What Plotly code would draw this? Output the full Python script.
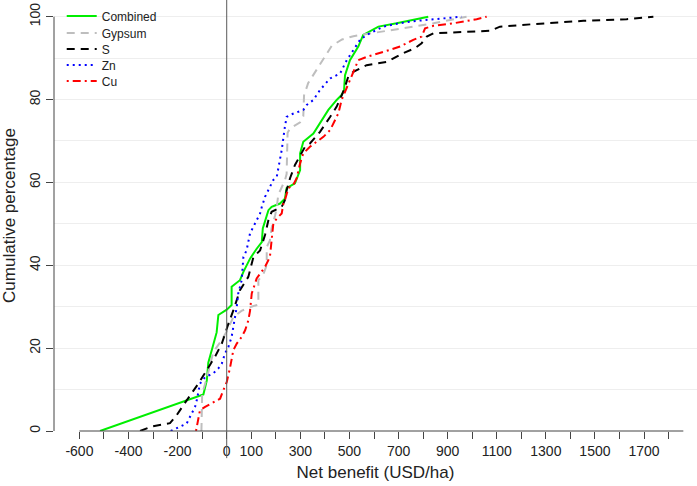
import plotly.graph_objects as go

# ---- data ----
combined_x = [-516, -95, -81, -75, -41, -34, 0, 20, 20, 54, 68, 95, 122, 143, 147, 163, 170, 183, 217, 237, 244, 278, 285, 299, 299, 312, 353, 380, 414, 448, 468, 478, 482, 502, 536, 556, 618, 692, 774, 821]
combined_y = [0, 8.8, 12.2, 16.5, 23.8, 28, 29.3, 30.4, 34.8, 36.4, 38.4, 41.6, 44, 45.6, 48.9, 51.7, 53.3, 54.1, 54.9, 56.1, 58.6, 59.8, 61, 63, 67, 69.8, 71.8, 74.2, 77.5, 79.9, 81.1, 82.3, 85.9, 89.5, 92.8, 95.6, 97.6, 98.4, 99.4, 100]

gypsum_x = [-103, -100, -80, -55, -20, 0, 27, 60, 100, 129, 129, 150, 163, 163, 176, 183, 197, 204, 210, 224, 237, 244, 248, 258, 299, 312, 315, 332, 373, 407, 428, 470, 516, 570, 679, 787, 842, 910, 977]
gypsum_y = [0, 9, 13, 19, 22, 24, 27.5, 29, 30, 30.5, 36.4, 38, 40, 44.4, 46, 49, 52, 54, 57, 59, 60.5, 62, 72, 73, 74.5, 76, 81, 84, 88, 91, 93, 94.5, 95.3, 95.8, 96.8, 97.8, 98.4, 99.2, 100]

s_x = [-353, -306, -231, -204, -163, -116, -81, -48, -20, -7, 7, 27, 41, 54, 88, 109, 136, 156, 170, 183, 224, 237, 244, 258, 278, 319, 339, 380, 421, 448, 475, 495, 516, 570, 652, 719, 767, 794, 815, 842, 1073, 1113, 1249, 1453, 1629, 1738]
s_y = [0, 1.1, 1.9, 3.8, 7.4, 11.4, 14.7, 17.9, 21.1, 23.5, 25.9, 29.1, 31.6, 34, 37.2, 42, 43.6, 47.3, 50.9, 52.9, 54.1, 55.7, 58.1, 61, 64.2, 68.6, 69.4, 72.2, 75.8, 78.3, 81.9, 85.5, 86.7, 88.3, 89.1, 91.2, 92.4, 93.6, 95.2, 96, 96.6, 97.6, 98.2, 99, 99.4, 100]

zn_x = [-228, -200, -163, -143, -129, -122, -109, -88, -55, -34, -20, -7, 7, 20, 27, 34, 41, 47, 61, 68, 81, 95, 109, 122, 136, 143, 156, 176, 190, 204, 224, 237, 244, 258, 312, 326, 353, 380, 421, 462, 489, 543, 570, 638, 700, 774, 860, 957]
zn_y = [0, 0.8, 1.8, 4.2, 5.8, 7.4, 11.4, 13, 13.9, 15.1, 16.3, 18.7, 20.3, 22.7, 25.1, 27.5, 30, 33.2, 36.4, 42, 43.6, 47.7, 49.3, 50.9, 52.5, 54.1, 56.5, 58.9, 60.6, 61.4, 67.8, 73.4, 75.8, 76.3, 77.5, 78.7, 79.9, 82.3, 85.1, 86.3, 89.5, 94.4, 95.6, 97.6, 98.4, 99.0, 99.4, 100]

cu_x = [-125, -109, -88, -48, -27, -14, 0, 13, 27, 41, 61, 75, 88, 95, 102, 122, 143, 156, 176, 183, 190, 204, 224, 231, 237, 251, 271, 285, 292, 299, 312, 339, 366, 394, 421, 441, 455, 468, 482, 495, 509, 536, 570, 624, 665, 706, 760, 794, 808, 842, 923, 1018, 1059]
cu_y = [0, 5, 5.8, 7, 7.8, 9.8, 11.8, 15.1, 19.5, 21.1, 22.7, 24.3, 26.7, 29, 33.2, 36.8, 38.4, 39.6, 42, 46.1, 50.1, 51.3, 52.5, 54.9, 55.7, 58.6, 59.4, 61, 63, 64.6, 67, 68.6, 69.8, 71, 72.6, 75, 76.7, 79.9, 81.9, 83.9, 85.9, 89.5, 90.3, 91.2, 92, 92.8, 94.4, 95.2, 97.2, 97.8, 98.4, 99.4, 100]

x_tick_vals = list(range(-600, 1900, 100))
x_tick_labels = ["-600", "", "-400", "", "-200", "", "0", "100", "", "300", "", "500", "", "700", "",
                 "900", "", "1100", "", "1300", "", "1500", "", "1700", ""]
y_tick_vals = [0, 20, 40, 60, 80, 100]

series = [
    ("Combined", combined_x, combined_y, "#00ee00", "solid"),
    ("Gypsum", gypsum_x, gypsum_y, "#bebebe", "8px,6px"),
    ("S", s_x, s_y, "#000000", "8px,6px"),
    ("Zn", zn_x, zn_y, "#0000ff", "2px,4px"),
    ("Cu", cu_x, cu_y, "#ff0000", "2px,4px,8px,4px"),
]

FONT = "Liberation Sans, Arial, sans-serif"
fig = go.Figure()
legend_names = ["legend", "legend2", "legend3", "legend4", "legend5"]
for i, (name, xs, ys, col, dash) in enumerate(series):
    fig.add_trace(go.Scatter(x=xs, y=ys, mode="lines", name=name,
                             line=dict(color=col, width=2, dash=dash),
                             legend=legend_names[i]))

H_PLOT = 431.0
leg_centers_px = [16, 33, 49, 65, 81]
layout_legends = {}
for i, ln in enumerate(legend_names):
    layout_legends[ln] = dict(x=0.012, xanchor="left", y=1 - leg_centers_px[i] / H_PLOT,
                              yanchor="middle", bgcolor="rgba(0,0,0,0)", borderwidth=0,
                              font=dict(family=FONT, size=12, color="#222"),
                              itemwidth=30, tracegroupgap=0)

fig.update_layout(
    width=697, height=486,
    margin=dict(l=54, r=0, t=0, b=55, autoexpand=False),
    plot_bgcolor="white", paper_bgcolor="white",
    showlegend=True,
    font=dict(family=FONT, size=14, color="#222"),
    xaxis=dict(range=[-703.5, 1915.7], tickmode="array", tickvals=x_tick_vals,
               ticktext=x_tick_labels, ticks="outside", ticklen=7, tickcolor="#444",
               showgrid=False, zeroline=False, showline=False,
               tickfont=dict(size=14),
               title=dict(text="Net benefit (USD/ha)", font=dict(size=17), standoff=8),
               automargin=False),
    yaxis=dict(range=[0, 104.03], tickmode="array", tickvals=y_tick_vals,
               ticks="outside", ticklen=7, tickcolor="#444", tickangle=-90,
               showgrid=True, gridcolor="#eeeeee", gridwidth=1,
               minor=dict(dtick=10, showgrid=True, gridcolor="#eeeeee", ticks=""),
               zeroline=False, showline=False, tickfont=dict(size=14),
               title=dict(text="Cumulative percentage", font=dict(size=17)),
               automargin=False),
    shapes=[
        dict(type="line", xref="paper", yref="y", x0=0, x1=0, y0=0, y1=100,
             line=dict(color="#444", width=1)),
        dict(type="line", xref="x", yref="paper", x0=-600, x1=1860, y0=0, y1=0,
             line=dict(color="#444", width=1)),
        dict(type="line", xref="x", yref="paper", x0=0, x1=0, y0=-0.063, y1=1,
             line=dict(color="#5a5a5a", width=1)),
    ],
    **layout_legends,
)

fig.write_html("out.html", config={"displayModeBar": False},
               post_script="document.body.style.margin='0';")
